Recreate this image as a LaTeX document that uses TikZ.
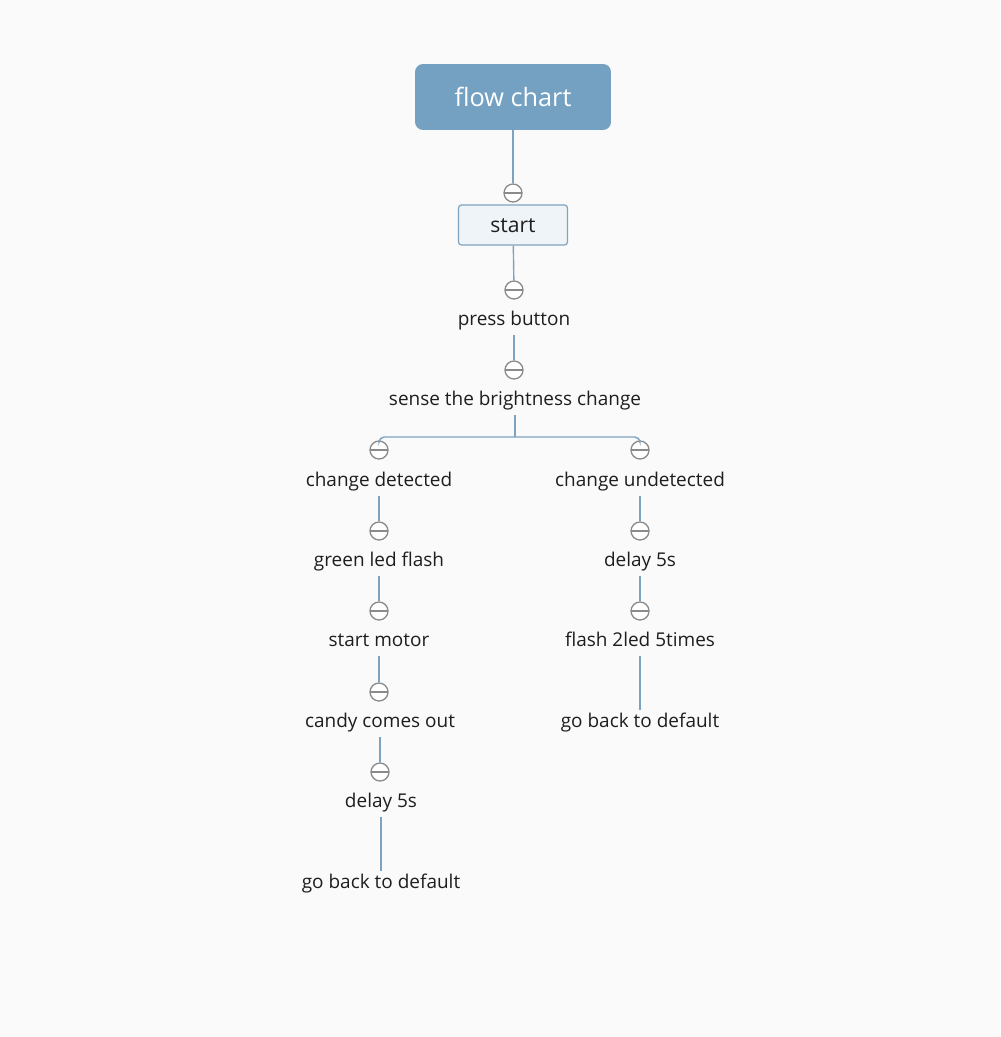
\documentclass[tikz,border=0pt]{standalone}
\usepackage{fontspec}
\setmainfont{Open Sans}
\usetikzlibrary{positioning}

\definecolor{linkblue}{HTML}{7EA3C0}
\definecolor{rootblue}{HTML}{74A1C2}
\definecolor{startfill}{HTML}{EFF4F8}
\definecolor{foldgray}{HTML}{8A8A8A}
\definecolor{paper}{HTML}{FAFAFA}
\definecolor{ink}{HTML}{1E1E1E}

\tikzset{
  root/.style={rectangle, rounded corners=0.16cm, fill=rootblue, text=white,
    minimum width=3.92cm, minimum height=1.32cm, font=\fontsize{14.4}{16}\selectfont},
  startbox/.style={rectangle, rounded corners=0.06cm, draw=linkblue, fill=startfill,
    line width=0.7pt, text=ink, minimum width=2.18cm, minimum height=0.8cm,
    text height=11pt, text depth=2pt, font=\fontsize{12}{14}\selectfont},
  topic/.style={text=ink, inner sep=2pt, text height=7.5pt, text depth=3pt,
    yshift=-2pt, font=\fontsize{10.8}{13}\selectfont},
  fold/.style={circle, draw=foldgray, fill=white, line width=0.75pt,
    minimum size=0.36cm, inner sep=0pt,
    path picture={\draw[foldgray, line width=0.75pt]
      ([xshift=-0.18cm]path picture bounding box.center) --
      ([xshift=0.18cm]path picture bounding box.center);}},
  link/.style={draw=linkblue, line width=0.8pt},
}

\begin{document}
\begin{tikzpicture}[x=0.02cm, y=-0.02cm]

\fill[paper] (0,0) rectangle (1000,1037);
\useasboundingbox (0,0) rectangle (1000,1037);

% trunk
\node[root] (chart) at (513,97) {flow chart};
\node[fold] (f0) at (513,193) {};
\node[startbox] (start) at (513,225) {start};
\node[fold] (f1) at (514,290) {};
\node[topic] (press) at (514,318) {press button};
\node[fold] (f2) at (514,370) {};
\node[topic] (sense) at (515,398) {sense the brightness change};
\coordinate (split) at (515,437);

% left branch
\node[fold] (fl0) at (379,450) {};
\node[topic] (det) at (379,479) {change detected};
\node[fold] (fl1) at (379,531) {};
\node[topic] (green) at (379,559) {green led flash};
\node[fold] (fl2) at (379,611) {};
\node[topic] (motor) at (379,639) {start motor};
\node[fold] (fl3) at (379,692) {};
\node[topic] (candy) at (380,720) {candy comes out};
\node[fold] (fl4) at (380,772) {};
\node[topic] (delayl) at (381,800) {delay 5s};
\node[topic] (backl) at (381,881) {go back to default};

% right branch
\node[fold] (fr0) at (640,450) {};
\node[topic] (undet) at (640,479) {change undetected};
\node[fold] (fr1) at (640,531) {};
\node[topic] (delayr) at (640,559) {delay 5s};
\node[fold] (fr2) at (640,611) {};
\node[topic] (flash) at (640,639) {flash 2led 5times};
\node[topic] (backr) at (640,720) {go back to default};

% connectors
\draw[link] (chart) -- (f0);
\draw[link] (start) -- (f1);
\draw[link] (press) -- (f2);
\draw[link] (sense) -- (split);
\draw[link, rounded corners=3] (split) -| (fl0);
\draw[link, rounded corners=3] (split) -| (fr0);
\foreach \a/\b in {det/fl1, green/fl2, motor/fl3, candy/fl4, delayl/backl,
                   undet/fr1, delayr/fr2, flash/backr} {
  \draw[link] (\a) -- (\b);
}

\end{tikzpicture}
\end{document}
